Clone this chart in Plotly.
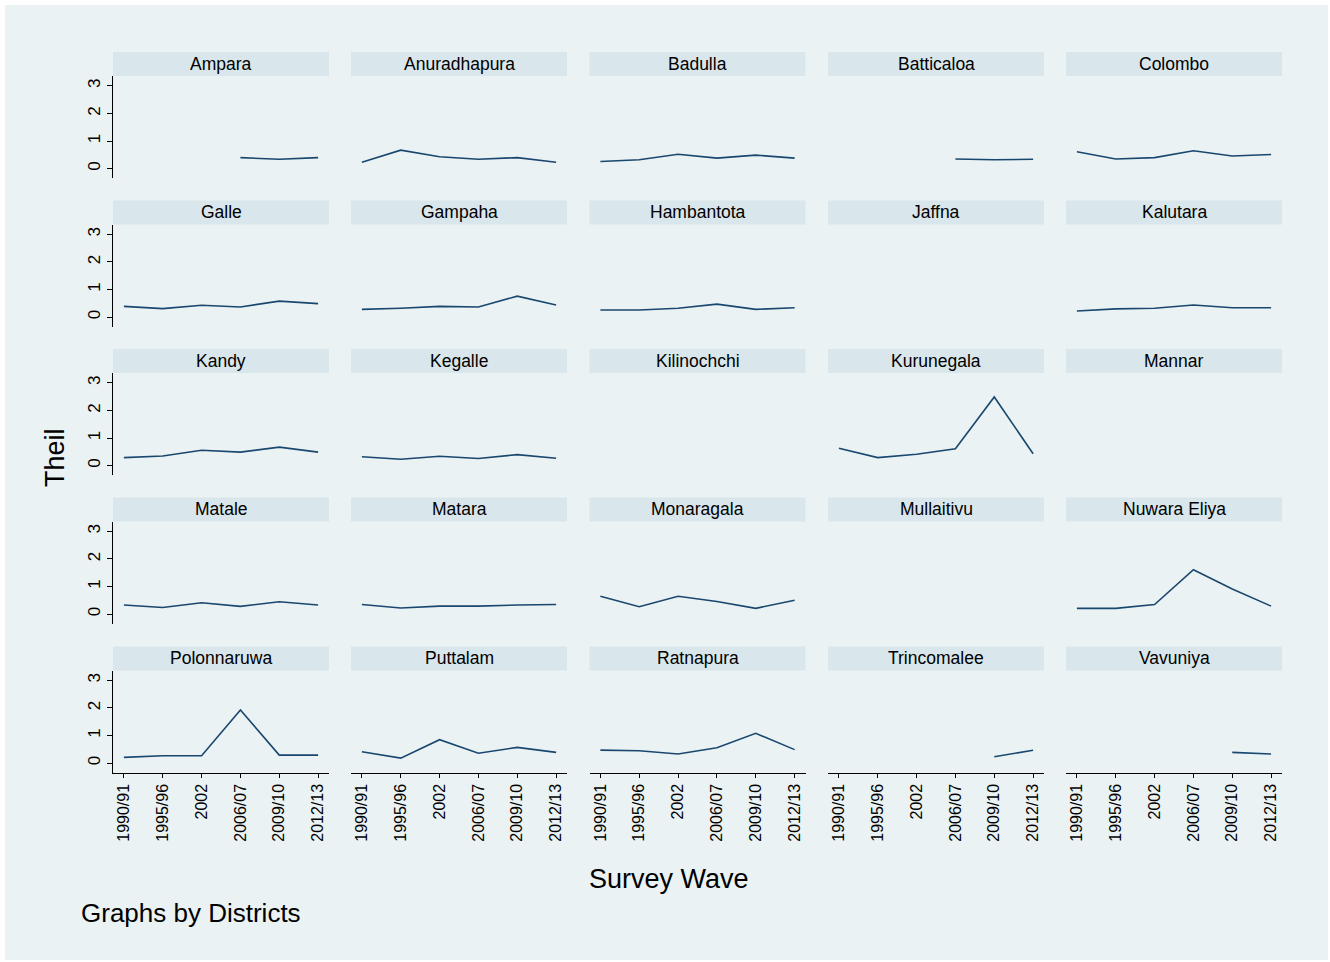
import plotly.graph_objects as go

# ---------------- data ----------------
waves = ["1990/91", "1995/96", "2002", "2006/07", "2009/10", "2012/13"]

districts = ["Ampara", "Anuradhapura", "Badulla", "Batticaloa", "Colombo",
             "Galle", "Gampaha", "Hambantota", "Jaffna", "Kalutara",
             "Kandy", "Kegalle", "Kilinochchi", "Kurunegala", "Mannar",
             "Matale", "Matara", "Monaragala", "Mullaitivu", "Nuwara Eliya",
             "Polonnaruwa", "Puttalam", "Ratnapura", "Trincomalee", "Vavuniya"]

ampara       = [None, None, None, 0.40, 0.34, 0.40]
anuradhapura = [0.23, 0.67, 0.43, 0.34, 0.40, 0.23]
badulla      = [0.26, 0.32, 0.52, 0.38, 0.49, 0.38]
batticaloa   = [None, None, None, 0.35, 0.32, 0.34]
colombo      = [0.61, 0.35, 0.40, 0.65, 0.46, 0.51]
galle        = [0.39, 0.31, 0.43, 0.37, 0.58, 0.49]
gampaha      = [0.28, 0.32, 0.39, 0.37, 0.76, 0.44]
hambantota   = [0.26, 0.26, 0.32, 0.47, 0.28, 0.34]
jaffna       = [None, None, None, None, None, None]
kalutara     = [0.22, 0.30, 0.32, 0.44, 0.34, 0.34]
kandy        = [0.29, 0.35, 0.56, 0.49, 0.67, 0.49]
kegalle      = [0.32, 0.23, 0.34, 0.26, 0.40, 0.27]
kilinochchi  = [None, None, None, None, None, None]
kurunegala   = [0.63, 0.29, 0.41, 0.61, 2.49, 0.43]
mannar       = [None, None, None, None, None, None]
matale       = [0.33, 0.24, 0.41, 0.28, 0.45, 0.33]
matara       = [0.35, 0.22, 0.29, 0.29, 0.33, 0.35]
monaragala   = [0.65, 0.27, 0.65, 0.46, 0.21, 0.50]
mullaitivu   = [None, None, None, None, None, None]
nuwara_eliya = [0.21, 0.21, 0.35, 1.61, 0.91, 0.29]
polonnaruwa  = [0.21, 0.27, 0.27, 1.93, 0.29, 0.29]
puttalam     = [0.41, 0.18, 0.85, 0.36, 0.57, 0.39]
ratnapura    = [0.47, 0.45, 0.33, 0.56, 1.08, 0.49]
trincomalee  = [None, None, None, None, 0.23, 0.47]
vavuniya     = [None, None, None, None, 0.39, 0.33]

series = [ampara, anuradhapura, badulla, batticaloa, colombo,
          galle, gampaha, hambantota, jaffna, kalutara,
          kandy, kegalle, kilinochchi, kurunegala, mannar,
          matale, matara, monaragala, mullaitivu, nuwara_eliya,
          polonnaruwa, puttalam, ratnapura, trincomalee, vavuniya]

y_ticks = [0, 1, 2, 3]

# ---------------- layout geometry ----------------
W, H = 1330, 962
col_left = [113, 351, 589.5, 828, 1066]
panel_w = 216
strip_top = [52, 200.5, 349, 497.5, 646.5]
strip_h = 24
plot_h = 102

BG = "#eaf2f3"
STRIP = "#d9e6eb"
LINE = "#1a476f"
FONT = "Liberation Sans, Arial, Helvetica, sans-serif"

def fx(px):
    return px / W

def fy(py):
    return 1 - py / H

fig = go.Figure()
layout = dict(
    width=W, height=H,
    margin=dict(l=0, r=0, t=0, b=0),
    paper_bgcolor="white",
    plot_bgcolor="white",
    showlegend=False,
    font=dict(family=FONT, color="black"),
)
shapes = [dict(type="rect", xref="paper", yref="paper",
               x0=fx(5), x1=fx(1328), y0=fy(960), y1=fy(5),
               fillcolor=BG, line=dict(width=0), layer="below")]
annotations = []

for i, (name, vals) in enumerate(zip(districts, series)):
    r, c = divmod(i, 5)
    k = i + 1
    xa = "x" if k == 1 else f"x{k}"
    ya = "y" if k == 1 else f"y{k}"
    fig.add_trace(go.Scatter(x=waves, y=vals, mode="lines",
                             line=dict(color=LINE, width=1.6),
                             xaxis=xa, yaxis=ya, connectgaps=False,
                             hoverinfo="x+y"))
    left = col_left[c]
    top = strip_top[r] + strip_h
    bottom = top + plot_h
    bottom_row = (r == 4)
    first_col = (c == 0)
    layout["xaxis" if k == 1 else f"xaxis{k}"] = dict(
        domain=[fx(left), fx(left + panel_w)],
        anchor=ya, type="category",
        categoryorder="array", categoryarray=waves,
        range=[-0.28, 5.28],
        showgrid=False, zeroline=False,
        showline=bottom_row, linecolor="black", linewidth=1,
        ticks="outside" if bottom_row else "", ticklen=4, tickcolor="black",
        showticklabels=bottom_row, tickangle=-90,
        tickfont=dict(size=16, family=FONT, color="black"),
        fixedrange=True,
    )
    layout["yaxis" if k == 1 else f"yaxis{k}"] = dict(
        domain=[fy(bottom), fy(top)],
        anchor=xa, range=[-0.34, 3.36],
        tickvals=y_ticks, ticktext=[str(t) for t in y_ticks],
        showgrid=True, gridcolor=BG, gridwidth=2,
        zeroline=False,
        showline=first_col, linecolor="black", linewidth=1,
        ticks="outside" if first_col else "", ticklen=5, tickcolor="black",
        showticklabels=first_col, tickangle=-90,
        tickfont=dict(size=17, family=FONT, color="black"),
        fixedrange=True,
    )
    shapes.append(dict(type="rect", xref="paper", yref="paper",
                       x0=fx(left), x1=fx(left + panel_w),
                       y0=fy(strip_top[r] + strip_h), y1=fy(strip_top[r]),
                       fillcolor=STRIP, line=dict(width=0), layer="below"))
    annotations.append(dict(text=name, xref="paper", yref="paper",
                            x=fx(left + panel_w / 2),
                            y=fy(strip_top[r] + strip_h / 2 - 0.5),
                            xanchor="center", yanchor="middle",
                            showarrow=False,
                            font=dict(size=17.5, family=FONT, color="black")))

annotations.append(dict(text="Theil", xref="paper", yref="paper",
                        x=fx(55), y=fy(458), textangle=-90,
                        xanchor="center", yanchor="middle", showarrow=False,
                        font=dict(size=27, family=FONT, color="black")))
annotations.append(dict(text="Survey Wave", xref="paper", yref="paper",
                        x=fx(669), y=fy(879),
                        xanchor="center", yanchor="middle", showarrow=False,
                        font=dict(size=27, family=FONT, color="black")))
annotations.append(dict(text="Graphs by Districts", xref="paper", yref="paper",
                        x=fx(79), y=fy(913),
                        xanchor="left", yanchor="middle", showarrow=False,
                        font=dict(size=26, family=FONT, color="black")))

layout["shapes"] = shapes
layout["annotations"] = annotations
fig.update_layout(**layout)
fig.write_html("out.html", config={"displayModeBar": False})
